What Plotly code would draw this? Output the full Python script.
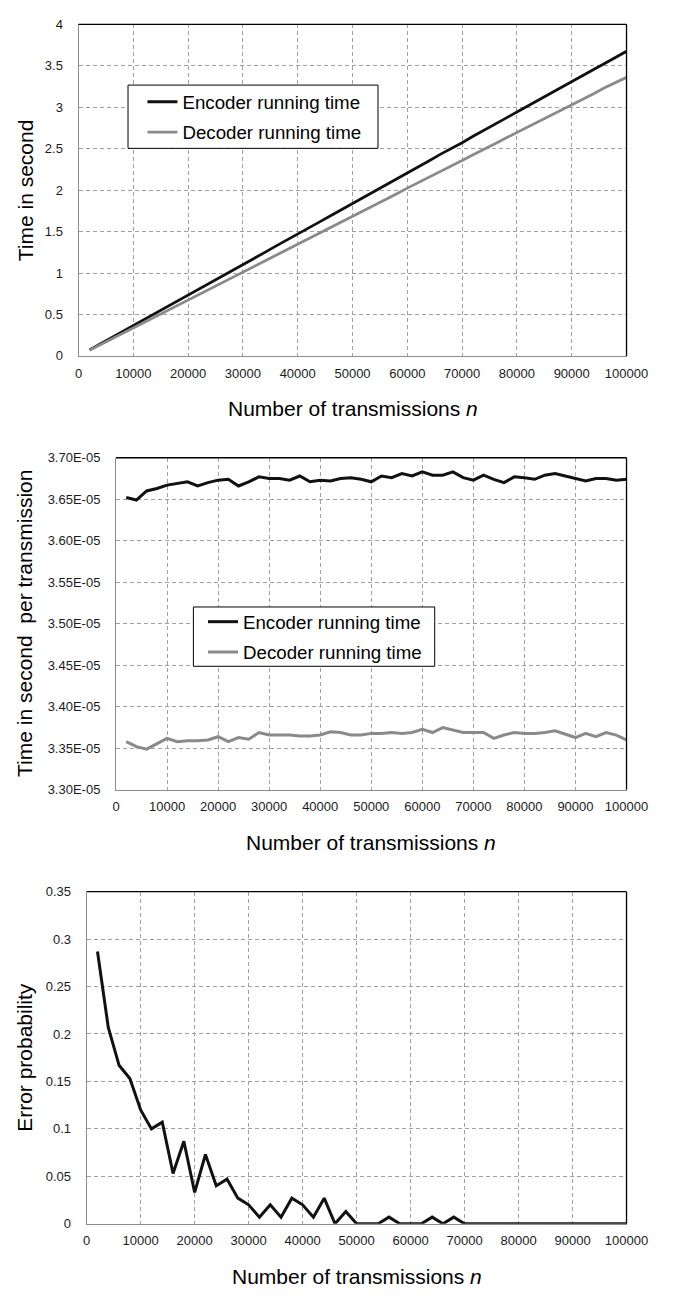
import plotly.graph_objects as go

# ---------------- data ----------------
n_values = [2000, 4000, 6000, 8000, 10000, 12000, 14000, 16000, 18000, 20000,
            22000, 24000, 26000, 28000, 30000, 32000, 34000, 36000, 38000, 40000,
            42000, 44000, 46000, 48000, 50000, 52000, 54000, 56000, 58000, 60000,
            62000, 64000, 66000, 68000, 70000, 72000, 74000, 76000, 78000, 80000,
            82000, 84000, 86000, 88000, 90000, 92000, 94000, 96000, 98000, 100000]

# total running time (seconds)
encoder_total = [0.073, 0.146, 0.220, 0.293, 0.367, 0.440, 0.514, 0.587, 0.661, 0.735,
                 0.808, 0.880, 0.955, 1.030, 1.103, 1.176, 1.249, 1.324, 1.395, 1.469,
                 1.542, 1.617, 1.691, 1.764, 1.836, 1.913, 1.985, 2.061, 2.133, 2.210,
                 2.281, 2.355, 2.431, 2.500, 2.571, 2.649, 2.719, 2.789, 2.868, 2.941,
                 3.013, 3.090, 3.166, 3.237, 3.308, 3.378, 3.455, 3.528, 3.600, 3.674]
decoder_total = [0.067, 0.134, 0.201, 0.268, 0.336, 0.403, 0.470, 0.537, 0.605, 0.673,
                 0.739, 0.807, 0.874, 0.943, 1.010, 1.077, 1.144, 1.211, 1.279, 1.346,
                 1.415, 1.482, 1.548, 1.616, 1.684, 1.751, 1.819, 1.886, 1.954, 2.024,
                 2.089, 2.160, 2.226, 2.291, 2.358, 2.426, 2.488, 2.558, 2.628, 2.694,
                 2.762, 2.830, 2.899, 2.963, 3.027, 3.099, 3.162, 3.234, 3.299, 3.360]

# running time per transmission (seconds)
encoder_per_tx = [3.652e-5, 3.649e-5, 3.660e-5, 3.663e-5, 3.667e-5, 3.669e-5, 3.671e-5, 3.666e-5, 3.670e-5, 3.673e-5,
                  3.674e-5, 3.666e-5, 3.671e-5, 3.677e-5, 3.675e-5, 3.675e-5, 3.673e-5, 3.678e-5, 3.671e-5, 3.673e-5,
                  3.672e-5, 3.675e-5, 3.676e-5, 3.674e-5, 3.671e-5, 3.678e-5, 3.676e-5, 3.681e-5, 3.678e-5, 3.683e-5,
                  3.679e-5, 3.679e-5, 3.683e-5, 3.676e-5, 3.673e-5, 3.679e-5, 3.674e-5, 3.670e-5, 3.677e-5, 3.676e-5,
                  3.674e-5, 3.679e-5, 3.681e-5, 3.678e-5, 3.675e-5, 3.672e-5, 3.675e-5, 3.675e-5, 3.673e-5, 3.674e-5]
decoder_per_tx = [3.358e-5, 3.352e-5, 3.349e-5, 3.355e-5, 3.362e-5, 3.358e-5, 3.359e-5, 3.359e-5, 3.360e-5, 3.364e-5,
                  3.358e-5, 3.363e-5, 3.361e-5, 3.369e-5, 3.366e-5, 3.366e-5, 3.366e-5, 3.365e-5, 3.365e-5, 3.366e-5,
                  3.370e-5, 3.369e-5, 3.366e-5, 3.366e-5, 3.368e-5, 3.368e-5, 3.369e-5, 3.368e-5, 3.369e-5, 3.373e-5,
                  3.369e-5, 3.375e-5, 3.372e-5, 3.369e-5, 3.369e-5, 3.369e-5, 3.362e-5, 3.366e-5, 3.369e-5, 3.368e-5,
                  3.368e-5, 3.369e-5, 3.371e-5, 3.367e-5, 3.363e-5, 3.368e-5, 3.364e-5, 3.369e-5, 3.366e-5, 3.360e-5]

error_probability = [0.287, 0.207, 0.167, 0.153, 0.120, 0.100, 0.107, 0.053, 0.087, 0.033,
                     0.073, 0.040, 0.047, 0.027, 0.020, 0.007, 0.020, 0.007, 0.027, 0.020,
                     0.007, 0.027, 0.000, 0.013, 0.000, 0.000, 0.000, 0.007, 0.000, 0.000,
                     0.000, 0.007, 0.000, 0.007, 0.000, 0.000, 0.000, 0.000, 0.000, 0.000,
                     0.000, 0.000, 0.000, 0.000, 0.000, 0.000, 0.000, 0.000, 0.000, 0.000]

x_tick_vals = [0, 10000, 20000, 30000, 40000, 50000, 60000, 70000, 80000, 90000, 100000]
x_tick_text = ["0", "10000", "20000", "30000", "40000", "50000", "60000", "70000", "80000", "90000", "100000"]
y1_tick_vals = [0, 0.5, 1, 1.5, 2, 2.5, 3, 3.5, 4]
y1_tick_text = ["0", "0.5", "1", "1.5", "2", "2.5", "3", "3.5", "4"]
y2_tick_vals = [3.30e-5, 3.35e-5, 3.40e-5, 3.45e-5, 3.50e-5, 3.55e-5, 3.60e-5, 3.65e-5, 3.70e-5]
y2_tick_text = ["3.30E-05", "3.35E-05", "3.40E-05", "3.45E-05", "3.50E-05", "3.55E-05", "3.60E-05", "3.65E-05", "3.70E-05"]
y3_tick_vals = [0, 0.05, 0.1, 0.15, 0.2, 0.25, 0.3, 0.35]
y3_tick_text = ["0", "0.05", "0.1", "0.15", "0.2", "0.25", "0.3", "0.35"]

series_names = ["Encoder running time", "Decoder running time"]
x_title = "Number of transmissions <i>n</i>"
y_titles = ["Time in second", "Time in second  per transmission", "Error probability"]

# ---------------- styling ----------------
W, H = 674, 1297
FONT = "Arial, 'Liberation Sans', sans-serif"
ENC_COLOR = "#111111"
DEC_COLOR = "#8a8a8a"
GRID = "#a0a0a0"
AXLINE = "#8c8c8c"


def px_x(p):
    return p / W


def px_y(p):
    return 1 - p / H


panels = [
    # (left, right, top, bottom) in pixels
    (77.5, 647.5, 17.5, 353),
    (116.5, 647.5, 456, 792),
    (86, 647.5, 895, 1231),
]

fig = go.Figure()

fig.add_trace(go.Scatter(x=n_values, y=encoder_total, mode="lines", name=series_names[0],
                         line=dict(color=ENC_COLOR, width=2.8), xaxis="x", yaxis="y",
                         legend="legend", legendgroup="e1"))
fig.add_trace(go.Scatter(x=n_values, y=decoder_total, mode="lines", name=series_names[1],
                         line=dict(color=DEC_COLOR, width=2.8), xaxis="x", yaxis="y",
                         legend="legend", legendgroup="d1"))
fig.add_trace(go.Scatter(x=n_values, y=encoder_per_tx, mode="lines", name=series_names[0],
                         line=dict(color=ENC_COLOR, width=3), xaxis="x2", yaxis="y2",
                         legend="legend2", legendgroup="e2"))
fig.add_trace(go.Scatter(x=n_values, y=decoder_per_tx, mode="lines", name=series_names[1],
                         line=dict(color=DEC_COLOR, width=3), xaxis="x2", yaxis="y2",
                         legend="legend2", legendgroup="d2"))
fig.add_trace(go.Scatter(x=n_values, y=error_probability, mode="lines", name="Error probability",
                         line=dict(color=ENC_COLOR, width=3), xaxis="x3", yaxis="y3", showlegend=False))

common_x = dict(range=[0, 100000], tickvals=x_tick_vals, ticktext=x_tick_text,
                showgrid=True, gridcolor=GRID, griddash="4px,3px", gridwidth=1,
                showline=True, linecolor=AXLINE, linewidth=1, zeroline=False,
                ticks="outside", ticklen=5, tickcolor="rgba(0,0,0,0)",
                tickfont=dict(family=FONT, size=13, color="#1a1a1a"))
common_y = dict(showgrid=True, gridcolor=GRID, griddash="4px,3px", gridwidth=1,
                showline=True, linecolor=AXLINE, linewidth=1, zeroline=False,
                ticks="outside", ticklen=12, tickcolor="rgba(0,0,0,0)",
                tickfont=dict(family=FONT, size=13, color="#1a1a1a"))

layout_axes = {}
y_specs = [
    ([0, 4], y1_tick_vals, y1_tick_text),
    ([3.30e-5, 3.70e-5], y2_tick_vals, y2_tick_text),
    ([0, 0.35], y3_tick_vals, y3_tick_text),
]
for i, ((l, r, t, b), (yr, yv, yt)) in enumerate(zip(panels, y_specs)):
    sx = "" if i == 0 else str(i + 1)
    layout_axes["xaxis" + sx] = dict(common_x, domain=[px_x(l), px_x(r)], anchor="y" + sx)
    layout_axes["yaxis" + sx] = dict(common_y, domain=[px_y(b), px_y(t)], anchor="x" + sx,
                                     range=yr, tickvals=yv, ticktext=yt)

shapes = []
annotations = []
for i, (l, r, t, b) in enumerate(panels):
    sx = "" if i == 0 else str(i + 1)
    xr = "x" + sx + " domain"
    yr = "y" + sx + " domain"
    shapes.append(dict(type="line", xref=xr, yref=yr, x0=0, x1=1, y0=1, y1=1,
                       line=dict(color="#000000", width=1.3)))
    shapes.append(dict(type="line", xref=xr, yref=yr, x0=1, x1=1, y0=0, y1=1,
                       line=dict(color="#000000", width=1.3)))
    annotations.append(dict(text=x_title, xref="paper", yref="paper",
                            x=px_x((l + r) / 2), y=px_y(b + 53), xanchor="center", yanchor="middle",
                            showarrow=False, font=dict(family=FONT, size=21, color="#000000")))
    annotations.append(dict(text=y_titles[i], xref="paper", yref="paper",
                            x=px_x(22), y=px_y((t + b) / 2), xanchor="center", yanchor="middle",
                            textangle=-90, showarrow=False,
                            font=dict(family=FONT, size=21, color="#000000")))

# legend frames (left, right, top, bottom) in pixels
legend_boxes = [(129, 389, 79, 143), (197, 448, 607, 667)]
for (l, r, t, b) in legend_boxes:
    shapes.append(dict(type="rect", xref="paper", yref="paper", layer="above",
                       x0=px_x(l), x1=px_x(r), y0=px_y(b), y1=px_y(t),
                       fillcolor="#ffffff", line=dict(color="#000000", width=1)))

legend_style = dict(bgcolor="rgba(0,0,0,0)", borderwidth=0,
                    font=dict(family=FONT, size=18.7, color="#000000"),
                    xanchor="left", yanchor="top", itemwidth=30,
                    traceorder="grouped", tracegroupgap=3)

fig.update_layout(
    width=W, height=H, autosize=False,
    margin=dict(l=0, r=0, t=0, b=0),
    paper_bgcolor="#ffffff", plot_bgcolor="#ffffff",
    font=dict(family=FONT),
    showlegend=True,
    legend=dict(legend_style, x=px_x(144), y=px_y(77)),
    legend2=dict(legend_style, x=px_x(207), y=px_y(603)),
    shapes=shapes,
    annotations=annotations,
    **layout_axes,
)

fig.write_html("out.html", config={"displayModeBar": False},
               post_script="document.body.style.margin='0';")
